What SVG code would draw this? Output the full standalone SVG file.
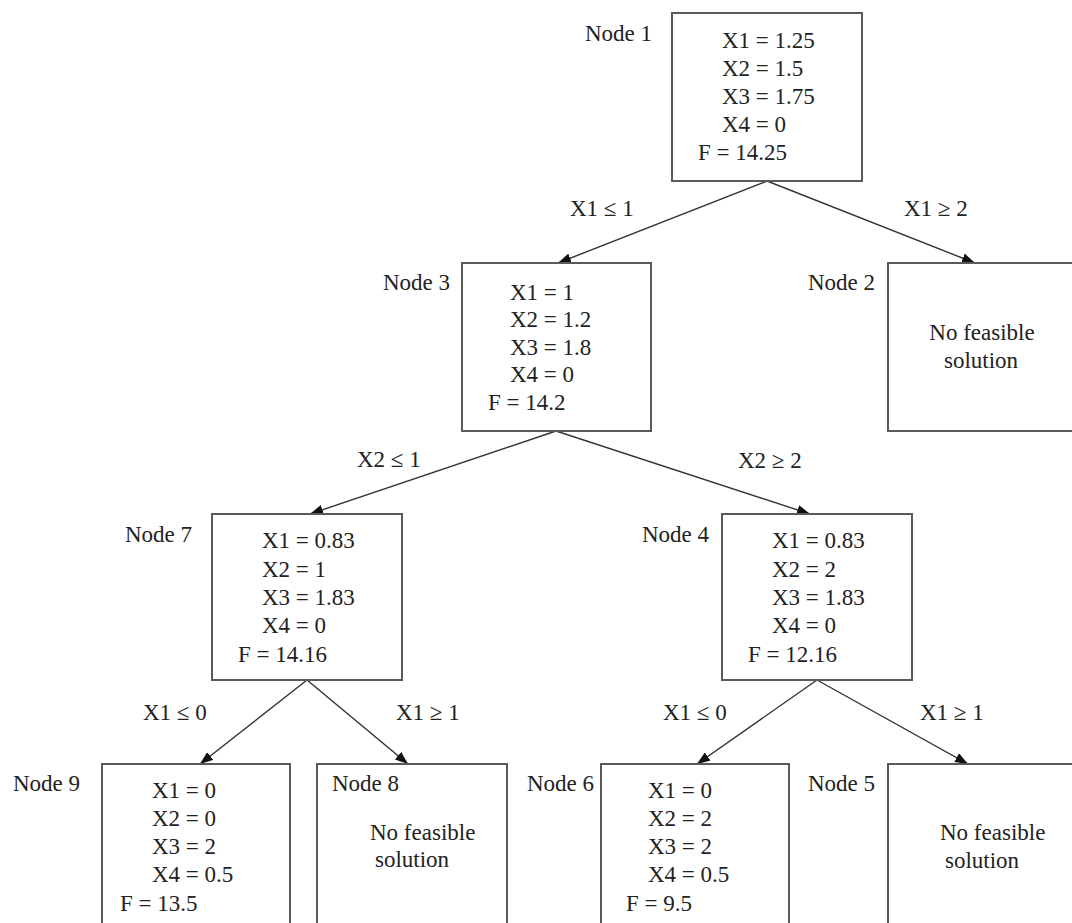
<svg xmlns="http://www.w3.org/2000/svg" width="1072" height="923" viewBox="0 0 1072 923">
<style>
  .box { fill: #fff; stroke: #5a5a5a; stroke-width: 2; }
  text { font-family: "Liberation Serif", "Times New Roman", serif; font-size: 23px; fill: #222; }
  .mid { text-anchor: middle; }
  .edge { stroke: #333; stroke-width: 1.4; fill: none; marker-end: url(#arr); }
</style>
<defs>
  <marker id="arr" markerUnits="userSpaceOnUse" markerWidth="14" markerHeight="10" refX="13" refY="5" orient="auto">
    <path d="M0,0 L13,5 L0,10 Z" fill="#111"/>
  </marker>
</defs>
<rect width="1072" height="923" fill="#fff"/>

<g id="connectors">
  <line class="edge" x1="767" y1="181" x2="558" y2="263"/>
  <line class="edge" x1="767" y1="181" x2="975" y2="263"/>
  <line class="edge" x1="556" y1="431" x2="310" y2="514"/>
  <line class="edge" x1="556" y1="431" x2="810" y2="514"/>
  <line class="edge" x1="307" y1="680" x2="200" y2="764"/>
  <line class="edge" x1="307" y1="680" x2="408" y2="764"/>
  <line class="edge" x1="817" y1="680" x2="697" y2="764"/>
  <line class="edge" x1="817" y1="680" x2="968" y2="764"/>
  <text x="570" y="216">X1 ≤ 1</text>
  <text x="904" y="216">X1 ≥ 2</text>
  <text x="357" y="467">X2 ≤ 1</text>
  <text x="738" y="468">X2 ≥ 2</text>
  <text x="143" y="720">X1 ≤ 0</text>
  <text x="396" y="720">X1 ≥ 1</text>
  <text x="663" y="720">X1 ≤ 0</text>
  <text x="920" y="720">X1 ≥ 1</text>
</g>

<g id="node1">
  <rect class="box" x="672" y="13" width="190" height="168"/>
  <text x="585" y="41">Node 1</text>
  <text x="722" y="48">X1 = 1.25</text>
  <text x="722" y="76">X2 = 1.5</text>
  <text x="722" y="104">X3 = 1.75</text>
  <text x="722" y="132">X4 = 0</text>
  <text x="698" y="160">F = 14.25</text>
</g>

<g id="node3">
  <rect class="box" x="462" y="263" width="189" height="168"/>
  <text x="383" y="290">Node 3</text>
  <text x="510" y="300">X1 = 1</text>
  <text x="510" y="327">X2 = 1.2</text>
  <text x="510" y="355">X3 = 1.8</text>
  <text x="510" y="382">X4 = 0</text>
  <text x="488" y="410">F = 14.2</text>
</g>

<g id="node2">
  <rect class="box" x="888" y="263" width="195" height="168"/>
  <text x="808" y="290">Node 2</text>
  <text class="mid" x="982" y="340">No feasible</text>
  <text class="mid" x="981" y="368">solution</text>
</g>

<g id="node7">
  <rect class="box" x="212" y="514" width="190" height="166"/>
  <text x="125" y="542">Node 7</text>
  <text x="262" y="548">X1 = 0.83</text>
  <text x="262" y="577">X2 = 1</text>
  <text x="262" y="605">X3 = 1.83</text>
  <text x="262" y="633">X4 = 0</text>
  <text x="238" y="662">F = 14.16</text>
</g>

<g id="node4">
  <rect class="box" x="722" y="514" width="190" height="166"/>
  <text x="642" y="542">Node 4</text>
  <text x="772" y="548">X1 = 0.83</text>
  <text x="772" y="577">X2 = 2</text>
  <text x="772" y="605">X3 = 1.83</text>
  <text x="772" y="633">X4 = 0</text>
  <text x="748" y="662">F = 12.16</text>
</g>

<g id="node9">
  <rect class="box" x="102" y="764" width="188" height="180"/>
  <text x="13" y="791">Node 9</text>
  <text x="152" y="798">X1 = 0</text>
  <text x="152" y="826">X2 = 0</text>
  <text x="152" y="854">X3 = 2</text>
  <text x="152" y="882">X4 = 0.5</text>
  <text x="120" y="911">F = 13.5</text>
</g>

<g id="node8">
  <rect class="box" x="317" y="764" width="190" height="180"/>
  <text x="332" y="791">Node 8</text>
  <text x="370" y="840">No feasible</text>
  <text x="375" y="867">solution</text>
</g>

<g id="node6">
  <rect class="box" x="601" y="764" width="188" height="180"/>
  <text x="527" y="791">Node 6</text>
  <text x="648" y="798">X1 = 0</text>
  <text x="648" y="826">X2 = 2</text>
  <text x="648" y="854">X3 = 2</text>
  <text x="648" y="882">X4 = 0.5</text>
  <text x="626" y="911">F = 9.5</text>
</g>

<g id="node5">
  <rect class="box" x="888" y="764" width="195" height="180"/>
  <text x="808" y="791">Node 5</text>
  <text x="940" y="840">No feasible</text>
  <text x="945" y="868">solution</text>
</g>
</svg>
